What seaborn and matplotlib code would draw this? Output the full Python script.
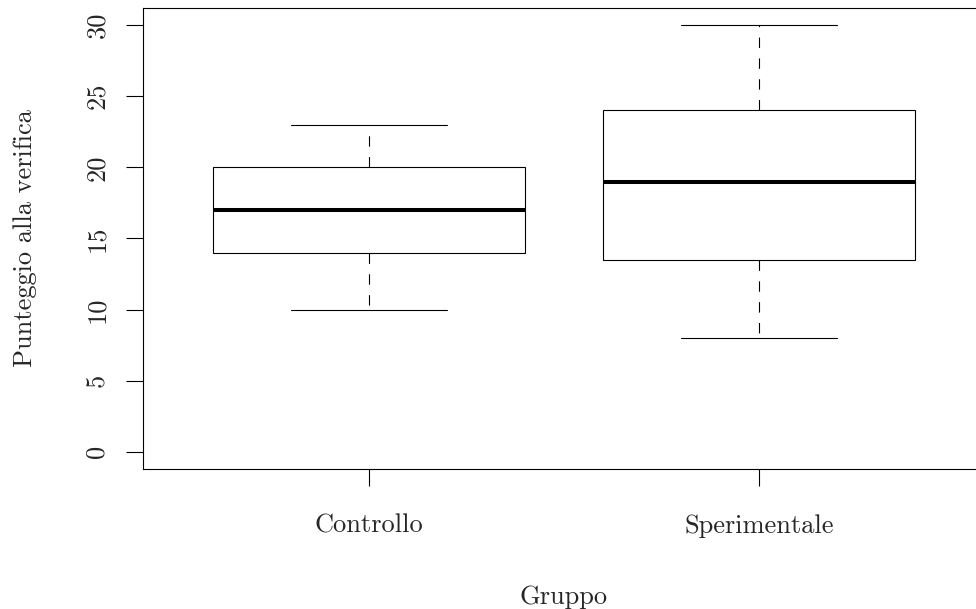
import pandas as pd
import matplotlib
matplotlib.use("Agg")
import matplotlib.pyplot as plt
import seaborn as sns

# five-number summaries
gruppi = ["Controllo", "Sperimentale"]
controllo = [10, 14, 17, 20, 23]
sperimentale = [8, 13.5, 19, 24, 30]
y_ticks = [0, 5, 10, 15, 20, 25, 30]

df = pd.DataFrame({
    "Gruppo": [gruppi[0]] * len(controllo) + [gruppi[1]] * len(sperimentale),
    "Punteggio": controllo + sperimentale,
})

sns.set_style("white")
plt.rcParams["font.family"] = ["cmr10", "DejaVu Serif"]
plt.rcParams["axes.formatter.use_mathtext"] = True
plt.rcParams["lines.scale_dashes"] = False

fig = plt.figure(figsize=(9.76, 6.09), dpi=100)
ax = fig.add_axes([143 / 976, 1 - 469 / 609, 842 / 976, 461 / 609])

sns.boxplot(
    data=df, x="Gruppo", y="Punteggio", order=gruppi,
    color="white", linecolor="black", linewidth=0.8, width=0.8,
    medianprops=dict(linewidth=2.9),
    whiskerprops=dict(linestyle=(0, (7.5, 7.5))),
    ax=ax,
)

ax.set_xlim(-0.58, 1.58)
ax.set_ylim(-1.2, 31.2)
ax.set_yticks(y_ticks)
ax.set_yticklabels([str(v) for v in y_ticks], rotation=90, va="center")

for s in ax.spines.values():
    s.set_visible(True)
    s.set_color("black")
    s.set_linewidth(0.8)

ax.tick_params(axis="both", which="major", direction="out", length=12.5,
               width=0.8, color="black", labelsize=19, left=True, bottom=True)
ax.tick_params(axis="y", pad=12)
ax.tick_params(axis="x", pad=20)

ax.set_xlabel("Gruppo", fontsize=19, labelpad=34)
ax.set_ylabel("Punteggio alla verifica", fontsize=19, labelpad=35)

fig.savefig("out.png", dpi=100)
